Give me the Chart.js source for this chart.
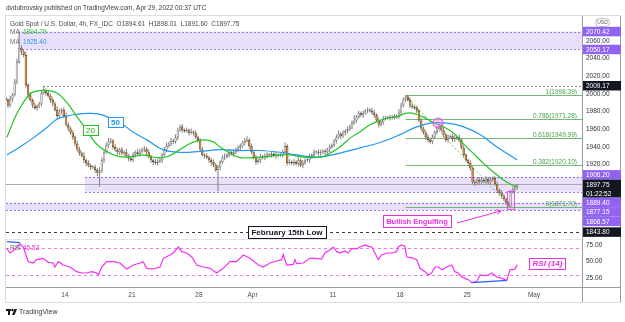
<!DOCTYPE html>
<html>
<head>
<meta charset="utf-8">
<title>Gold Spot / U.S. Dollar, 4h</title>
<script src="https://cdn.jsdelivr.net/npm/chart.js@4.4.1/dist/chart.umd.min.js"></script>
<style>
  html, body { margin: 0; padding: 0; background: #ffffff; }
  canvas { display: block; }
</style>
</head>
<body>
<canvas id="canvas" width="625" height="322"></canvas>
<script>
// 4h closes, one row per trading day (day 0 = Mon Mar 7 2022, first row starts mid-day)
var closes = [
  1993,1987,1994,
  1999,2014,2036,2052,2048,2044,
  2010,1999,1993,1987,1984,1986,
  1989,2001,2004,2001,1998,1993,
  1989,1982,1975,1980,1982,1975,
  1965,1961,1956,1951,1944,1937,
  1933,1930,1925,1922,1919,1917,
  1917,1914,1911,1913,1925,1934,
  1942,1946,1947,1940,1937,1934,
  1937,1933,1934,1930,1927,1925,
  1931,1934,1932,1935,1937,1938,
  1934,1929,1925,1923,1922,1924,
  1925,1931,1937,1941,1944,1947,
  1946,1951,1959,1963,1959,1958,
  1959,1956,1957,1956,1951,1948,
  1937,1931,1930,1928,1925,1923,
  1920,1914,1917,1923,1928,1929,
  1931,1934,1932,1934,1937,1939,
  1941,1945,1947,1948,1941,1934,
  1928,1923,1925,1929,1928,1930,
  1931,1931,1932,1931,1930,1931,
  1931,1934,1941,1922,1923,1922,
  1923,1921,1925,1919,1922,1925,
  1925,1929,1931,1934,1934,1933,
  1934,1935,1934,1937,1940,1942,
  1947,1951,1955,1952,1956,1958,
  1960,1963,1967,1970,1974,1978,
  1976,1978,1981,1982,1981,1979,
  1976,1970,1965,1968,1972,1973,
  1973,1973,1974,1974,1975,1979,
  1987,1994,1997,1993,1987,1985,
  1984,1981,1970,1961,1956,1951,
  1948,1946,1951,1957,1961,1964,
  1959,1954,1948,1951,1952,1949,
  1950,1951,1948,1939,1931,1925,
  1922,1916,1900,1899,1903,1900,
  1903,1901,1904,1900,1903,1905,
  1898,1891,1888,1885,1881,1877,
  1873,1889,1892,1894.61,1897.75
];
// how far each bar's high / low reaches past its body
var wickHi = [
  3,2,4,
  2,3,4,18.42,3,2,
  4,2,3,2,3,2,
  2,3,5.17,2,3,2,
  3,2,4,3,2,3,
  4,3,2,3,2,3,
  3,2,4,2,3,2,
  2,3,2,4,3,3,
  3,4,3,2,3,2,
  2,3,2,4,2,3,
  3,2,4,3,2,3,
  2,3,2,2,3,2,
  3,2,3,4,2,3,
  2,3,3,2,3,2,
  3,2,4,2,3,2,
  2,3,2,3,2,3,
  3,2,3,2,3,4,
  2,3,2,3,2,3,
  3,2,3,4,2,3,
  2,3,2,3,2,3,
  3,2,3,2,4,2,
  2,3,4,2,3,2,
  3,2,3,2,3,2,
  2,3,2,3,2,3,
  3,2,3,2,3,2,
  2,3,4,2,3,2,
  3,2,3,6,2,3,
  2,3,2,3,2,3,
  3,2,3,2,3,2,
  2,3,2,3,2,4,
  3,2,1.39,2,3,2,
  2,3,2,3,2,3,
  3,2,3,2,3,2,
  2,3,2,3,2,3,
  3,2,3,2,3,2,
  2,3,2,3,2,3,
  3,2,3,2,3,2,
  2,3,2,3,2,2,
  2,2,3,2,0.26
];
var wickLo = [
  2,3,2,
  3,2,3,2,4,3,
  3,4,2,3,2,3,
  2,3,2,3,2,3,
  3,2,3,2,3,2,
  2,3,2,3,3,2,
  3,2,3,4,2,3,
  2,3,4,16,2,3,
  2,3,2,3,2,3,
  3,2,3,2,3,2,
  2,3,2,3,2,3,
  3,2,3,4,2,3,
  2,3,2,3,2,3,
  3,2,3,2,3,2,
  2,3,2,3,2,3,
  3,2,3,2,3,4,
  3,2,24,3,2,3,
  2,3,2,3,2,3,
  3,2,3,2,3,2,
  2,3,2,3,2,3,
  3,2,3,2,3,2,
  2,3,2,3,2,3,
  3,2,3,2,3,2,
  2,3,2,3,2,3,
  3,2,3,2,3,2,
  2,3,2,3,2,3,
  3,2,3,2,3,2,
  2,3,2,3,2,3,
  3,2,3,2,3,2,
  2,3,2,3,2,3,
  3,2,3,2,3,2,
  2,3,2,3,2,3,
  3,2,3,2,3,2,
  2,3,2,3,2,3,
  3,2,3,2,3,2,
  2,3,2,3,2,3,
  3,2,3,2,3,2,
  2,3,2,3,2,3,
  1.2,1.3,2,2,3.01
];
var firstOpen = 1995;
var firstBarDay = 3.5 / 6;
var barsPerDay = 6;

// moving averages, traced (trading-day position, price)
var ma20Days = [0.67,1.42,2.16,2.61,3.36,4.40,5.15,5.90,6.64,7.09,7.61,8.36,9.10,10.07,10.82,11.87,12.61,13.58,14.33,15.30,16.04,16.57,17.31,18.06,19.03,20.07,21.04,21.79,22.54,23.28,24.25,24.78,25.52,26.27,27.01,27.76,28.51,29.25,29.78,30.37,30.97,31.72,32.46,33.21,33.96,34.70,35.45,36.19,36.94,37.69,38.36,38.75];
var ma20Vals = [1951,1978,1996,2002,2004,2001,1990,1974,1959,1948,1940,1933,1929,1929,1931,1928,1929,1937,1944,1948,1946,1940,1933,1928,1928,1929,1931,1931,1929,1928,1929,1933,1940,1950,1957,1965,1970,1973,1974,1978,1978,1974,1968,1963,1956,1944,1933,1922,1912,1903,1897,1894.79];
var ma50Days = [0.67,1.64,2.61,3.66,4.25,4.85,5.90,6.87,7.84,9.33,10.07,11.12,12.31,13.58,15.07,16.57,18.06,19.55,21.04,22.31,23.28,24.25,25.52,27.01,28.51,30.0,30.97,32.24,33.51,34.70,35.97,37.24,38.75];
var ma50Vals = [1931,1940,1950,1962,1970,1974,1977,1978,1976,1965,1957,1948,1937,1934,1935,1937,1936,1936,1934,1931,1929,1929,1933,1939,1945,1954,1961,1967,1967,1963,1954,1940,1925.40];

// RSI(14), traced
var rsiDays = [0.65,0.90,1.27,1.64,1.89,2.26,2.63,2.89,3.38,3.76,4.13,4.25,4.50,4.87,5.37,5.87,6.25,6.62,6.99,7.37,7.49,7.74,8.11,8.61,9.10,9.60,10.10,10.60,10.84,11.10,11.59,12.09,12.34,12.84,13.08,13.46,13.71,14.08,14.46,14.83,15.32,15.82,16.32,16.81,17.31,17.81,18.31,18.81,19.43,19.80,20.30,20.80,21.17,21.29,21.54,22.04,22.16,22.29,22.78,23.28,23.66,24.15,24.40,24.78,25.02,25.28,25.52,25.90,26.14,26.40,26.77,27.01,27.39,27.64,27.89,28.13,28.38,28.63,29.01,29.38,29.75,29.87,30.13,30.37,30.50,30.87,31.25,31.49,31.87,32.11,32.36,32.61,32.86,33.11,33.49,33.86,34.10,34.35,34.60,34.85,35.10,35.35,35.72,35.97,36.34,36.59,36.84,37.21,37.59,37.96,38.21,38.46,38.58,38.75];
var rsiVals = [70,63,68,77,72,50,48,53,55,49,48,42,50,45,42,35,33,33,35,33,30,42,50,50,48,39,45,48,50,40,39,42,55,60,63,72,65,63,57,45,42,40,33,40,50,50,60,55,45,42,48,51,53,61,45,46,53,47,48,55,55,54,63,68,72,65,63,66,63,70,69,72,75,73,72,63,53,60,63,63,65,72,75,73,57,56,53,40,35,30,33,42,42,38,42,45,35,33,27,25,23,18.5,20,30,29,30,33,27,25,22,38,38,39,45.53];
var rsiBands = [70, 30];
var rsiTicks = [25, 50, 75];
// blue divergence lines on the RSI pane
var divDays = [[0.67, 1.64], [35.35, 37.96]];
var divVals = [[80, 78.5], [18.5, 22]];

// time axis
var tickDays = [5, 10, 15, 19, 25, 30, 35, 40];
var tickLabels = ['14', '21', '28', 'Apr', '11', '18', '25', 'May'];

// drawn zones and levels
var zoneTops = [2070.42, 1906.20, 1877.15];
var zoneBottoms = [2050.17, 1889.40, 1868.57];
var zoneFrom = [1.49, 6.49, 0];
var febLow = 1843.80;
var marchHigh = 2009.17;
var fibHigh = 1998.39, fibLow = 1871.70;
var fibHighDay = 30.42, fibLowDay = 38.25;
var fibLevels = [1, 0.786, 0.618, 0.382, 0];

// right scale tags
var markPrices = [2070.42, 2050.17, 2009.17, 1906.20, 1897.75, 1889.40, 1877.15, 1868.57, 1843.80];
var markKinds = ['zone', 'zone', 'level', 'zone', 'last', 'zone', 'zone', 'zone', 'level'];
var countdown = '01:22:52';

// ---- candles ----
var wicks = [], bodyUp = [], bodyDn = [];
var prev = firstOpen, lastBar = null;
for (var i = 0; i < closes.length; i++) {
  var o = prev, c = closes[i], d = firstBarDay + i / barsPerDay;
  var hi = Math.max(o, c) + wickHi[i], lo = Math.min(o, c) - wickLo[i];
  wicks.push({x: d, y: [lo, hi]});
  if (c >= o) bodyUp.push({x: d, y: [o, c]}); else bodyDn.push({x: d, y: [o, c]});
  lastBar = {o: o, h: hi, l: lo, c: c};
  prev = c;
}
function pairs(xs, ys) { return xs.map(function (x, k) { return {x: x, y: ys[k]}; }); }

var FONT = '"Liberation Sans", Arial, sans-serif';
var purple = '#9163f2';
var zoneFill = 'rgba(140,100,230,0.2)';
var zoneEdge = 'rgba(130,90,225,0.8)';
var pink = '#ee2be0';
var maGreen = '#21c421', maBlue = '#2196f3';
function f(sz, w) { return (w ? w + ' ' : '') + sz + 'px ' + FONT; }
function fmt(v) { return v.toFixed(2); }

function hLine(ctx, x0, x1, y) {
  y = Math.round(y) + 0.5;
  ctx.beginPath(); ctx.moveTo(x0, y); ctx.lineTo(x1, y); ctx.stroke();
}
function textBox(ctx, cx, cy, text, font, color, edge, padX, h) {
  ctx.font = font;
  var w = Math.ceil(ctx.measureText(text).width) + padX * 2;
  var x = Math.round(cx - w / 2) + 0.5, y = Math.round(cy - h / 2) + 0.5;
  ctx.setLineDash([]);
  ctx.fillStyle = '#ffffff'; ctx.fillRect(x, y, w, h);
  ctx.strokeStyle = edge; ctx.lineWidth = 1; ctx.strokeRect(x, y, w, h);
  ctx.fillStyle = color; ctx.textAlign = 'center'; ctx.textBaseline = 'middle';
  ctx.fillText(text, cx, cy + 0.5);
}

var overlay = {
  id: 'overlay',
  beforeDatasetsDraw: function (chart) {
    var ctx = chart.ctx, a = chart.chartArea;
    var xs = chart.scales.x, ys = chart.scales.y, yr = chart.scales.yr;
    ctx.save();
    ctx.beginPath(); ctx.rect(a.left, a.top, a.right - a.left, a.bottom - a.top); ctx.clip();

    // zones
    for (var k = 0; k < zoneTops.length; k++) {
      var x0 = Math.max(a.left, xs.getPixelForValue(zoneFrom[k]));
      var y0 = ys.getPixelForValue(zoneTops[k]), y1 = ys.getPixelForValue(zoneBottoms[k]);
      ctx.fillStyle = zoneFill;
      ctx.fillRect(x0, y0, a.right - x0, y1 - y0);
      ctx.strokeStyle = zoneEdge; ctx.lineWidth = 1; ctx.setLineDash([2, 2]);
      hLine(ctx, x0, a.right, y0); hLine(ctx, x0, a.right, y1);
    }
    // last price line
    ctx.setLineDash([]); ctx.strokeStyle = '#a9a9a9'; ctx.lineWidth = 1;
    hLine(ctx, a.left, a.right, ys.getPixelForValue(lastBar.c));
    // March high and February low levels
    ctx.setLineDash([2, 2]); ctx.strokeStyle = '#8a8a8a';
    hLine(ctx, xs.getPixelForValue(3.36), a.right, ys.getPixelForValue(marchHigh));
    ctx.setLineDash([3, 3]); ctx.strokeStyle = '#3a3a3a';
    hLine(ctx, a.left, a.right, ys.getPixelForValue(febLow));
    // RSI bands
    ctx.setLineDash([3, 3]); ctx.strokeStyle = 'rgba(240,60,230,0.7)';
    rsiBands.forEach(function (b) { hLine(ctx, a.left, a.right, yr.getPixelForValue(b)); });
    // fibonacci levels
    ctx.setLineDash([]); ctx.strokeStyle = 'rgba(92,170,96,0.85)';
    var fx0 = xs.getPixelForValue(fibHighDay);
    fibLevels.forEach(function (lv) {
      hLine(ctx, fx0, a.right, ys.getPixelForValue(fibLow + lv * (fibHigh - fibLow)));
    });
    ctx.setLineDash([2, 2]); ctx.strokeStyle = 'rgba(92,170,96,0.85)';
    ctx.beginPath();
    ctx.moveTo(fx0, ys.getPixelForValue(fibHigh));
    ctx.lineTo(xs.getPixelForValue(fibLowDay), ys.getPixelForValue(fibLow));
    ctx.stroke();
    ctx.restore();
  },
  afterDatasetsDraw: function (chart) {
    var ctx = chart.ctx, a = chart.chartArea;
    var xs = chart.scales.x, ys = chart.scales.y, yr = chart.scales.yr;
    function P(d, p) { return [xs.getPixelForValue(d), ys.getPixelForValue(p)]; }
    ctx.save();
    ctx.beginPath(); ctx.rect(a.left, a.top, a.right - a.left, a.bottom - a.top); ctx.clip();

    // pink marker circle where price met the 50 MA
    var c = P(32.84, 1967.1);
    ctx.beginPath(); ctx.arc(c[0], c[1], 5, 0, Math.PI * 2);
    ctx.fillStyle = 'rgba(240,120,240,0.4)'; ctx.fill();
    ctx.strokeStyle = 'rgba(230,70,225,0.9)'; ctx.lineWidth = 1; ctx.stroke();

    // box round the engulfing candle
    var r0 = P(37.96, 1890.3), r1 = P(38.48, 1869.9);
    ctx.fillStyle = 'rgba(240,120,240,0.15)';
    ctx.fillRect(r0[0], r0[1], r1[0] - r0[0], r1[1] - r0[1]);
    ctx.strokeStyle = 'rgba(230,70,225,0.9)';
    ctx.strokeRect(Math.round(r0[0]) + 0.5, Math.round(r0[1]) + 0.5, Math.round(r1[0] - r0[0]), Math.round(r1[1] - r0[1]));

    // fib labels
    ctx.font = f(6.5); ctx.fillStyle = '#43a047'; ctx.textAlign = 'right'; ctx.textBaseline = 'alphabetic';
    fibLevels.forEach(function (lv) {
      var p = fibLow + lv * (fibHigh - fibLow);
      ctx.fillText(lv + '(' + fmt(p) + ')', a.right - 5, Math.round(ys.getPixelForValue(p)) - 1.5);
    });

    // MA tags
    var t20 = P(6.90, 1959.2), t50 = P(8.77, 1968.3);
    textBox(ctx, t20[0], t20[1], '20', f(8), '#1faa1f', maGreen, 3, 10);
    textBox(ctx, t50[0], t50[1], '50', f(8, 'bold'), maBlue, maBlue, 3, 10);

    // February low tag
    var fb = P(21.57, febLow);
    textBox(ctx, fb[0], fb[1], 'February 15th Low', f(8, 'bold'), '#131722', '#131722', 3, 12);

    // bullish engulfing tag and arrow
    var be = P(31.27, 1856.4);
    textBox(ctx, be[0], be[1], 'Bullish Engulfing', f(7.5, 'bold'), pink, pink, 3, 12);
    var a0 = P(34.25, 1854.1), a1 = P(37.54, 1867.7);
    ctx.strokeStyle = pink; ctx.fillStyle = pink; ctx.lineWidth = 1; ctx.setLineDash([]);
    ctx.beginPath(); ctx.moveTo(a0[0], a0[1]); ctx.lineTo(a1[0], a1[1]); ctx.stroke();
    var ang = Math.atan2(a1[1] - a0[1], a1[0] - a0[0]);
    ctx.beginPath();
    ctx.moveTo(a1[0] - 5 * Math.cos(ang - 0.5), a1[1] - 5 * Math.sin(ang - 0.5));
    ctx.lineTo(a1[0], a1[1]);
    ctx.lineTo(a1[0] - 5 * Math.cos(ang + 0.5), a1[1] - 5 * Math.sin(ang + 0.5));
    ctx.stroke();

    // RSI divergence lines
    ctx.strokeStyle = '#2962ff'; ctx.lineWidth = 1.2;
    for (var k = 0; k < divDays.length; k++) {
      ctx.beginPath();
      ctx.moveTo(xs.getPixelForValue(divDays[k][0]), yr.getPixelForValue(divVals[k][0]));
      ctx.lineTo(xs.getPixelForValue(divDays[k][1]), yr.getPixelForValue(divVals[k][1]));
      ctx.stroke();
    }
    // RSI (14) tag
    textBox(ctx, xs.getPixelForValue(41.0), yr.getPixelForValue(47.3), 'RSI (14)', f(8, 'italic bold'), pink, pink, 3, 11);

    // pane legends
    ctx.textAlign = 'left'; ctx.textBaseline = 'middle';
    var lx = a.left + 4;
    ctx.font = f(6.5); ctx.fillStyle = '#4a4a4a';
    ctx.fillText('Gold Spot / U.S. Dollar, 4h, FX_IDC  O' + fmt(lastBar.o) + '  H' + fmt(lastBar.h) +
      '  L' + fmt(lastBar.l) + '  C' + fmt(lastBar.c), lx, a.top + 8.5);
    ctx.fillStyle = '#6a6a6a'; ctx.fillText('MA', lx, a.top + 16.5); ctx.fillText('MA', lx, a.top + 26.5);
    ctx.fillStyle = maGreen; ctx.fillText(fmt(ma20Vals[ma20Vals.length - 1]), lx + 13, a.top + 16.5);
    ctx.fillStyle = maBlue; ctx.fillText(fmt(ma50Vals[ma50Vals.length - 1]), lx + 13, a.top + 26.5);
    ctx.fillStyle = '#6a6a6a'; ctx.fillText('RSI', lx, yr.top + 9);
    ctx.fillStyle = pink; ctx.fillText(fmt(rsiVals[rsiVals.length - 1]), lx + 13, yr.top + 9);
    ctx.restore();
  },
  afterDraw: function (chart) {
    var ctx = chart.ctx, a = chart.chartArea, ys = chart.scales.y, yr = chart.scales.yr, xs = chart.scales.x;
    ctx.save();
    // frame and separators
    ctx.strokeStyle = '#dcdde2'; ctx.lineWidth = 1;
    ctx.strokeRect(a.left - 0.5, a.top - 0.5, 620 - a.left + 1, xs.bottom - a.top + 1);
    ctx.strokeStyle = '#e3e4e8';
    hLine(ctx, a.left, a.right, yr.top - 0.5);
    ctx.strokeStyle = '#9a9ca3';
    hLine(ctx, a.left, 620, a.bottom);
    ctx.beginPath(); ctx.moveTo(a.right + 0.5, a.top); ctx.lineTo(a.right + 0.5, xs.bottom); ctx.stroke();
    ctx.beginPath(); ctx.moveTo(620.5, a.top); ctx.lineTo(620.5, xs.bottom); ctx.stroke();

    // price scale tags
    var h = 9.5, bx = a.right + 1, bw = 38;
    var tags = markPrices.map(function (p, k) { return {p: p, kind: markKinds[k], y: ys.getPixelForValue(p)}; });
    var li = markKinds.indexOf('last'), t = tags[li];
    t.top = t.y - h / 2; t.bottom = t.top + h * 2 - 1;
    var lim = t.top, k, g;
    for (k = li - 1; k >= 0; k--) { g = tags[k]; g.bottom = Math.min(g.y + h / 2, lim); g.top = g.bottom - h; lim = g.top; }
    lim = t.bottom;
    for (k = li + 1; k < tags.length; k++) { g = tags[k]; g.top = Math.max(g.y - h / 2, lim); g.bottom = g.top + h; lim = g.bottom; }
    ctx.font = f(6.5); ctx.textAlign = 'left'; ctx.textBaseline = 'middle';
    tags.forEach(function (g) {
      ctx.fillStyle = g.kind === 'zone' ? purple : '#131722';
      ctx.fillRect(bx, g.top, bw, g.bottom - g.top);
      ctx.fillStyle = '#ffffff';
      ctx.fillText(fmt(g.p), bx + 3, g.top + h / 2 + 0.5);
      if (g.kind === 'last') ctx.fillText(countdown, bx + 3, g.top + h * 1.5);
    });
    // currency badge
    ctx.fillStyle = '#ffffff'; ctx.strokeStyle = '#b8bac2';
    ctx.beginPath(); ctx.roundRect(a.right + 13.5, a.top + 2.5, 14, 8, 4); ctx.fill(); ctx.stroke();
    ctx.fillStyle = '#555'; ctx.font = f(5); ctx.textAlign = 'center';
    ctx.fillText('USD', a.right + 20.5, a.top + 7);

    // header and footer
    ctx.textAlign = 'left'; ctx.fillStyle = '#3a3a3a'; ctx.font = f(6.5);
    ctx.fillText('dvdubrovsky published on TradingView.com, Apr 29, 2022 00:37 UTC', 6, 8.5);
    ctx.fillStyle = '#131722';
    ctx.fillRect(6, 309, 5, 2); ctx.fillRect(8, 309, 2, 6);
    ctx.beginPath(); ctx.arc(12.5, 310, 1.2, 0, Math.PI * 2); ctx.fill();
    ctx.beginPath(); ctx.moveTo(14.5, 309); ctx.lineTo(17, 309); ctx.lineTo(14.5, 315); ctx.lineTo(12, 315); ctx.closePath(); ctx.fill();
    ctx.fillStyle = '#3a3a3a'; ctx.font = f(7);
    ctx.fillText('TradingView', 19, 312.5);
    ctx.restore();
  }
};

function noPad(s) { s.paddingTop = 0; s.paddingBottom = 0; s.paddingLeft = 0; s.paddingRight = 0; }
var tickFont = {family: FONT, size: 6.5};

new Chart(document.getElementById('canvas').getContext('2d'), {
  type: 'bar',
  data: {
    datasets: [
      {type: 'line', label: 'MA 20', data: pairs(ma20Days, ma20Vals), yAxisID: 'y', borderColor: maGreen, borderWidth: 1.2,
       pointRadius: 0, tension: 0.4, fill: false, order: 1},
      {type: 'line', label: 'MA 50', data: pairs(ma50Days, ma50Vals), yAxisID: 'y', borderColor: maBlue, borderWidth: 1.2,
       pointRadius: 0, tension: 0.4, fill: false, order: 1},
      {type: 'line', label: 'RSI', data: pairs(rsiDays, rsiVals), yAxisID: 'yr', borderColor: '#f52ff0', borderWidth: 1.2,
       pointRadius: 0, tension: 0, fill: false, order: 1},
      {label: 'up', data: bodyUp, yAxisID: 'y', backgroundColor: '#e6e6e6', borderColor: '#6c6c6c', borderWidth: 0.7,
       borderSkipped: false, barThickness: 2.4, minBarLength: 1, grouped: false, inflateAmount: 0, order: 2},
      {label: 'down', data: bodyDn, yAxisID: 'y', backgroundColor: '#f0861a', borderColor: '#4a300e', borderWidth: 0.7,
       borderSkipped: false, barThickness: 2.4, minBarLength: 1, grouped: false, inflateAmount: 0, order: 2},
      {label: 'wick', data: wicks, yAxisID: 'y', backgroundColor: '#808080', barThickness: 1, grouped: false,
       inflateAmount: 0, order: 3}
    ]
  },
  options: {
    responsive: false,
    animation: false,
    devicePixelRatio: 1,
    events: [],
    layout: {padding: {left: 6, top: 16, right: 5, bottom: 20}},
    plugins: {legend: {display: false}, tooltip: {enabled: false}},
    scales: {
      x: {
        type: 'linear', position: 'bottom', min: 0.6, max: 43.58, offset: false,
        grid: {display: false, drawTicks: false}, border: {display: false},
        afterBuildTicks: function (s) { s.ticks = tickDays.map(function (v) { return {value: v}; }); },
        afterFit: function (s) { s.height = 15; noPad(s); },
        ticks: {autoSkip: false, maxRotation: 0, padding: 4, color: '#4a4a4a', font: tickFont,
          callback: function (v) { return tickLabels[tickDays.indexOf(v)]; }}
      },
      y: {
        type: 'linear', position: 'right', stack: 'pane', stackWeight: 223, min: 1836, max: 2088,
        beginAtZero: false,
        grid: {display: false, drawTicks: false}, border: {display: false},
        afterBuildTicks: function (s) { s.ticks = s.ticks.filter(function (t) { return t.value % 20 === 0; }); },
        afterFit: function (s) { s.width = 38; noPad(s); },
        ticks: {stepSize: 20, padding: 4, color: '#2a2e39', font: tickFont, callback: function (v) { return fmt(v); }}
      },
      yr: {
        type: 'linear', position: 'right', stack: 'pane', stackWeight: 48, min: 12, max: 84,
        beginAtZero: false,
        grid: {display: false, drawTicks: false}, border: {display: false},
        afterBuildTicks: function (s) { s.ticks = rsiTicks.map(function (v) { return {value: v}; }); },
        afterFit: function (s) { s.width = 38; noPad(s); },
        ticks: {padding: 4, color: '#2a2e39', font: tickFont, callback: function (v) { return fmt(v); }}
      }
    }
  },
  plugins: [overlay]
});
</script>
</body>
</html>
